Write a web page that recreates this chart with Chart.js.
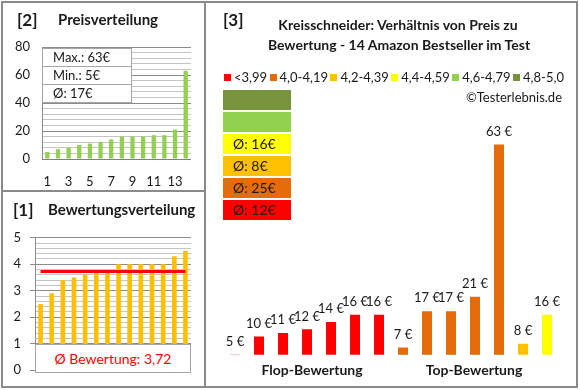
<!DOCTYPE html>
<html>
<head>
<meta charset="utf-8">
<script src="https://cdn.jsdelivr.net/npm/chart.js@4.4.0/dist/chart.umd.min.js"></script>
<style>
  body { margin:0; width:580px; height:390px; background:#fff; position:relative; overflow:hidden;
         font-family: Lato, 'Liberation Sans', sans-serif; color:#1a1a1a; }
  .abs { position:absolute; }
  canvas { position:absolute; }
  .line { position:absolute; background:#8a8a8a; z-index:5; }
  .ttl { position:absolute; font-weight:bold; font-size:15px; white-space:nowrap; z-index:6; }
  .br { position:absolute; font-weight:bold; font-size:17px; z-index:6; }
  .stats { position:absolute; left:42px; top:48px; width:88px; background:#fff; border:1px solid #a6a6a6; z-index:6; }
  .stats div { height:17px; line-height:17px; font-size:13px; padding-left:10px; border-top:1px solid #a6a6a6; }
  .stats div:first-child { border-top:none; }
  .avgbox { position:absolute; left:35px; top:344px; width:156px; height:29px; box-sizing:border-box; background:#fff;
            border:1px solid #a6a6a6; color:#ff0000; font-size:14px; text-align:center; line-height:27px; z-index:6; }
  .legend { position:absolute; left:224px; top:69px; width:340px; height:16px; display:flex;
            justify-content:space-between; align-items:center; font-size:13px; z-index:6; }
  .legend span.sq { display:inline-block; width:7px; height:7px; margin-right:3px; vertical-align:middle; position:relative; top:-1px; }
  .block { position:absolute; left:223px; width:68px; height:20px; line-height:20px; font-size:14px; padding-left:10px; box-sizing:border-box; z-index:6; }
</style>
</head>
<body>
<div class="line" style="left:1px;top:1px;width:577px;height:2px"></div>
<div class="line" style="left:1px;top:386px;width:577px;height:2px"></div>
<div class="line" style="left:1px;top:1px;width:2px;height:387px"></div>
<div class="line" style="left:576px;top:1px;width:2px;height:387px"></div>
<div class="line" style="left:204px;top:1px;width:2px;height:387px"></div>
<div class="line" style="left:1px;top:190px;width:205px;height:2px"></div>

<canvas id="priceChart" width="205" height="191" style="left:0;top:0"></canvas>
<canvas id="ratingChart" width="205" height="196" style="left:0;top:191px"></canvas>
<canvas id="testChart" width="373" height="388" style="left:205px;top:0"></canvas>

<div class="br" style="left:17px;top:9px">[2]</div>
<div class="ttl" style="left:58px;top:10px">Preisverteilung</div>
<div class="stats" id="stats"></div>

<div class="br" style="left:13px;top:199px">[1]</div>
<div class="ttl" style="left:48px;top:200px">Bewertungsverteilung</div>
<div class="avgbox" id="avgbox"></div>

<div class="br" style="left:223px;top:9px">[3]</div>
<div class="ttl" style="left:198px;width:400px;text-align:center;top:16px;font-size:14px">Kreisschneider: Verhältnis von Preis zu</div>
<div class="ttl" style="left:199px;width:400px;text-align:center;top:36px;font-size:14px">Bewertung - 14 Amazon Bestseller im Test</div>
<div class="legend" id="legend"></div>
<div class="abs" style="left:400px;width:162px;text-align:right;top:89px;line-height:16px;font-size:13px">©Testerlebnis.de</div>
<div id="blocks"></div>
<div class="ttl" style="left:212px;width:200px;text-align:center;top:360px;line-height:20px;font-size:14px">Flop-Bewertung</div>
<div class="ttl" style="left:374px;width:200px;text-align:center;top:360px;line-height:20px;font-size:14px">Top-Bewertung</div>

<script>
// Daten
const priceRank = ['1', '2', '3', '4', '5', '6', '7', '8', '9', '10', '11', '12', '13', '14'];
const pricesSorted = [5, 7, 8, 10, 11, 12, 14, 16, 16, 16, 17, 17, 21, 63];
const ratingsSorted = [2.5, 2.9, 3.4, 3.5, 3.6, 3.7, 3.7, 4.0, 4.0, 4.0, 4.0, 4.0, 4.3, 4.5];
const testProducts = ['P1', 'P2', 'P3', 'P4', 'P5', 'P6', 'P7', 'P8', 'P9', 'P10', 'P11', 'P12', 'P13', 'P14'];
const testPrices = [5, 10, 11, 12, 14, 16, 16, 7, 17, 17, 21, 63, 8, 16];
const testClass = [0, 0, 0, 0, 0, 0, 0, 1, 1, 1, 1, 1, 2, 3];
const classLabels = ['<3,99', '4,0-4,19', '4,2-4,39', '4,4-4,59', '4,6-4,79', '4,8-5,0'];
const classColors = ['#ff0000', '#e46c0a', '#ffc000', '#ffff00', '#92d050', '#77933c'];

Chart.defaults.font.family = 'Lato, "Liberation Sans", sans-serif';
Chart.defaults.font.size = 13;
Chart.defaults.color = '#1a1a1a';
Chart.defaults.animation = false;

// Kennzahlen
const sum = a => a.reduce((s, v) => s + v, 0);
const avgPrice = Math.round(sum(pricesSorted) / pricesSorted.length);
const avgRating = sum(ratingsSorted) / ratingsSorted.length;
document.getElementById('stats').innerHTML =
  `<div>Max.: ${Math.max(...pricesSorted)}€</div><div>Min.: ${Math.min(...pricesSorted)}€</div><div>Ø: ${avgPrice}€</div>`;
document.getElementById('avgbox').textContent = 'Ø Bewertung: ' + avgRating.toFixed(2).replace('.', ',');

// Legende + Farbblöcke
const legend = document.getElementById('legend');
classLabels.forEach((lab, i) => {
  const item = document.createElement('div');
  item.innerHTML = `<span class="sq" style="background:${classColors[i]}"></span>${lab}`;
  legend.appendChild(item);
});
const blocks = document.getElementById('blocks');
for (let k = 0; k < classLabels.length; k++) {
  const c = classLabels.length - 1 - k;
  const vals = testPrices.filter((v, i) => testClass[i] === c);
  const b = document.createElement('div');
  b.className = 'block';
  b.style.top = (90 + 22 * k) + 'px';
  b.style.background = classColors[c];
  b.textContent = vals.length ? `Ø: ${Math.round(sum(vals) / vals.length)}€` : '';
  blocks.appendChild(b);
}

// [2] Preisverteilung
new Chart(document.getElementById('priceChart'), {
  type: 'bar',
  data: {
    labels: priceRank,
    datasets: [{ data: pricesSorted, backgroundColor: '#92d050', barPercentage: 0.4, categoryPercentage: 1 }]
  },
  options: {
    responsive: false,
    devicePixelRatio: 1,
    layout: { padding: { top: 47, right: 14, left: 0, bottom: 0 } },
    plugins: { legend: { display: false }, tooltip: { enabled: false } },
    scales: {
      x: {
        grid: { display: false, drawTicks: false },
        border: { display: false },
        ticks: { autoSkip: false, maxRotation: 0, padding: 15, callback: (v, i) => i % 2 === 0 ? priceRank[i] : '' },
        afterFit: s => { s.height = 32; }
      },
      y: {
        min: 0, max: 80,
        grid: {
          drawTicks: false,
          color: c => c.tick.value === 0 ? '#7f7f7f' : (c.tick.value % 20 === 0 ? '#8c8c8c' : '#c4c4c4')
        },
        border: { color: '#8c8c8c' },
        ticks: { stepSize: 4, autoSkip: false, padding: 12, callback: v => v % 20 === 0 ? v : '' },
        afterFit: s => { s.width = 42; }
      }
    }
  }
});

// [1] Bewertungsverteilung
new Chart(document.getElementById('ratingChart'), {
  type: 'bar',
  data: {
    labels: priceRank,
    datasets: [
      { type: 'line', data: ratingsSorted.map(() => avgRating), borderColor: '#ff0000', borderWidth: 3, pointRadius: 0, order: 0 },
      { data: ratingsSorted, backgroundColor: '#ffc000', barPercentage: 0.42, categoryPercentage: 1, order: 1 }
    ]
  },
  options: {
    responsive: false,
    devicePixelRatio: 1,
    layout: { padding: { top: 46.7, right: 14, left: 0, bottom: 14.3 } },
    plugins: { legend: { display: false }, tooltip: { enabled: false } },
    scales: {
      x: { display: false },
      y: {
        min: 0, max: 5,
        grid: {
          tickLength: 5,
          color: c => Math.abs(c.tick.value - Math.round(c.tick.value)) < 1e-6 ? '#8c8c8c' : '#c4c4c4',
          tickColor: c => Math.abs(c.tick.value - Math.round(c.tick.value)) < 1e-6 ? '#8c8c8c' : 'rgba(0,0,0,0)'
        },
        border: { color: '#8c8c8c' },
        ticks: {
          stepSize: 0.2, autoSkip: false, padding: 9,
          callback: v => Math.abs(v - Math.round(v)) < 1e-6 ? Math.round(v) : ''
        },
        afterFit: s => { s.width = 35; }
      }
    }
  }
});

// [3] Preis nach Bewertung
const valueLabels = {
  id: 'valueLabels',
  afterDatasetsDraw(chart) {
    const ctx = chart.ctx;
    ctx.save();
    ctx.font = '13px Lato, "Liberation Sans", sans-serif';
    ctx.fillStyle = '#1a1a1a';
    ctx.textAlign = 'center';
    ctx.textBaseline = 'middle';
    chart.getDatasetMeta(0).data.forEach((el, i) => {
      ctx.fillText(testPrices[i] + ' €', el.x, el.y - 13);
    });
    ctx.restore();
  }
};
new Chart(document.getElementById('testChart'), {
  type: 'bar',
  data: {
    labels: testProducts,
    datasets: [{
      data: testPrices,
      backgroundColor: testClass.map(c => classColors[c]),
      barPercentage: 0.417, categoryPercentage: 1
    }]
  },
  options: {
    responsive: false,
    devicePixelRatio: 1,
    layout: { padding: { top: 101, right: 19, left: 18, bottom: 33.3 } },
    plugins: { legend: { display: false }, tooltip: { enabled: false } },
    scales: {
      x: { display: false },
      y: { display: false, min: 5, max: 75 }
    }
  },
  plugins: [valueLabels]
});
</script>
</body>
</html>
